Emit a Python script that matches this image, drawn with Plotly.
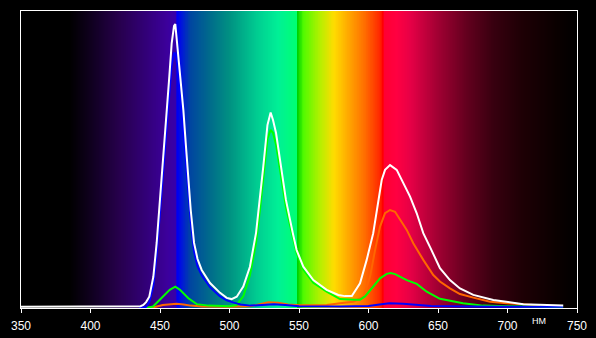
import numpy as np
import plotly.graph_objects as go

# ---- data (wavelength nm, relative intensity) ----
wl_white = [350, 430, 436, 438, 440, 442.3, 445.2, 447.6, 449.5, 451.2, 453.1, 454.8, 456.7, 458.4, 460.1, 461,
            462.4, 464.6, 466.8, 468.5, 470.4, 472.1, 474.5, 477, 480, 486, 493.2, 498, 501.5, 505.2, 509.9,
            514.7, 519.1, 521.9, 524.3, 525.5, 527.3, 529.6, 531.3, 533.5, 537, 540.6, 545.5, 548.3, 553.1,
            560.3, 569.9, 578.3, 583, 588, 593.9, 598.7, 603.4, 607, 609.5, 611.9, 615.5, 620.3, 625, 629.9,
            634.7, 639.4, 644.2, 651.4, 658.6, 665.8, 675.4, 689.8, 711.4, 725.8, 740.1]
val_white = [0.004, 0.004, 0.006, 0.010, 0.020, 0.038, 0.105, 0.219, 0.330, 0.442, 0.556, 0.667, 0.779, 0.891, 0.950, 0.956,
             0.891, 0.779, 0.667, 0.556, 0.442, 0.330, 0.219, 0.165, 0.128, 0.084, 0.051, 0.034, 0.030, 0.038, 0.072,
             0.139, 0.253, 0.364, 0.476, 0.532, 0.616, 0.658, 0.633, 0.589, 0.476, 0.364, 0.253, 0.195, 0.139,
             0.094, 0.061, 0.044, 0.040, 0.040, 0.083, 0.162, 0.252, 0.364, 0.431, 0.465, 0.481, 0.465, 0.420, 0.375,
             0.319, 0.252, 0.206, 0.134, 0.094, 0.066, 0.044, 0.027, 0.013, 0.010, 0.008]

wl_blue = [435, 440, 442.3, 445.2, 447.6, 449.5, 451.2, 453.1, 454.8, 456.7, 458.4, 460.3, 461.5, 462.4, 464.6,
           466.8, 468.5, 470.4, 472.1, 474.5, 477, 480, 486, 493, 498, 503, 508, 515, 525, 532, 540, 550, 580,
           600, 608, 615, 625, 635, 645, 670, 700, 740]
val_blue = [0.0, 0.004, 0.02, 0.075, 0.18, 0.29, 0.40, 0.51, 0.61, 0.72, 0.82, 0.86, 0.85, 0.82, 0.71,
            0.60, 0.50, 0.39, 0.29, 0.19, 0.14, 0.11, 0.07, 0.04, 0.026, 0.018, 0.012, 0.008, 0.011, 0.013, 0.010, 0.006, 0.005,
            0.007, 0.012, 0.016, 0.014, 0.010, 0.007, 0.005, 0.004, 0.004]

wl_green = [440, 445, 452, 457, 461, 464.4, 470.4, 476.4, 485, 500, 505, 510, 514.7, 519.1, 521.9, 524.3, 525.5,
            527.3, 529.6, 531.3, 533.5, 537, 540.6, 545.5, 548.3, 553.1, 560.3, 569.9, 579.5, 590, 593.9, 597.5,
            603.4, 608.3, 613.1, 616, 619.1, 622.7, 627.5, 634.7, 641.9, 651.4, 661, 668, 675.4, 682.4, 699.4,
            725.8, 740]
val_green = [0.0, 0.005, 0.038, 0.061, 0.072, 0.061, 0.033, 0.013, 0.008, 0.006, 0.010, 0.040, 0.11, 0.22, 0.33, 0.44, 0.50,
             0.57, 0.60, 0.59, 0.55, 0.45, 0.34, 0.24, 0.185, 0.13, 0.085, 0.055, 0.030, 0.028, 0.028, 0.039,
             0.072, 0.100, 0.115, 0.118, 0.114, 0.105, 0.094, 0.081, 0.055, 0.031, 0.021, 0.016, 0.012, 0.008, 0.006,
             0.004, 0.003]

wl_red = [440, 447, 452, 458, 462, 467, 472, 480, 500, 515, 522, 528, 535, 542, 550, 570, 579.5, 589.1, 596.3,
          601.1, 604.7, 608.3, 611.9, 615.5, 619.1, 622.7, 627.5, 632.2, 639.4, 646.6, 651.4, 658.6, 665.8,
          675.4, 687.4, 699.4, 711.4, 723.4]
val_red = [0.0, 0.004, 0.010, 0.013, 0.014, 0.012, 0.008, 0.005, 0.004, 0.006, 0.014, 0.019, 0.018, 0.012, 0.009, 0.010,
           0.016, 0.021, 0.038, 0.105, 0.195, 0.274, 0.319, 0.330, 0.324, 0.296, 0.263, 0.218, 0.162, 0.111,
           0.089, 0.066, 0.047, 0.035, 0.021, 0.016, 0.011, 0.008]

tick_vals = [350, 400, 450, 500, 550, 600, 650, 700, 750]
tick_text = ["350", "400", "450", "500", "550", "600", "650", "700", "750"]
unit_label = "НМ"

# ---- spectrum background colour stops (nm, rgb) ----
spec_stops = [
    (350, (0, 0, 0)), (385, (0, 0, 0)), (400, (15, 0, 30)), (420, (38, 0, 75)), (440, (50, 0, 120)),
    (455, (60, 0, 155)), (461, (55, 0, 170)), (462.5, (0, 0, 240)), (466, (0, 25, 215)), (472, (0, 70, 160)),
    (485, (0, 105, 140)), (500, (0, 145, 130)), (520, (0, 205, 145)), (535, (0, 240, 150)), (548, (0, 255, 115)),
    (549, (0, 210, 0)), (553, (80, 250, 0)), (565, (180, 240, 0)), (575, (255, 220, 0)), (585, (255, 170, 0)),
    (597, (255, 110, 0)), (608, (255, 40, 0)), (610, (255, 0, 0)), (611.5, (255, 0, 50)), (620, (255, 0, 65)),
    (630, (230, 0, 70)), (650, (160, 0, 50)), (670, (100, 0, 30)), (690, (55, 0, 15)), (710, (30, 0, 5)),
    (735, (10, 0, 0)), (750, (0, 0, 0)),
]
colorscale = [[(w - 350) / 400.0, "rgb(%d,%d,%d)" % c] for w, c in spec_stops]

bg_x = np.arange(350, 750.01, 0.5)
bg_z = [list(bg_x), list(bg_x)]

fig = go.Figure()
fig.add_trace(go.Heatmap(x=bg_x, y=[0, 1], z=bg_z, colorscale=colorscale, zmin=350, zmax=750,
                         showscale=False, hoverinfo="skip", zsmooth=False))

for wl, val, col in [(wl_red, val_red, "#ff6600"), (wl_green, val_green, "#00ff00"),
                     (wl_blue, val_blue, "#0000ff"), (wl_white, val_white, "#ffffff")]:
    fig.add_trace(go.Scatter(x=wl, y=val, mode="lines", line=dict(color=col, width=2),
                             hoverinfo="skip", showlegend=False))

fig.add_annotation(x=0.9317, y=-0.044, xref="paper", yref="paper", text=unit_label, showarrow=False,
                   font=dict(family="Liberation Sans, Arial", size=9, color="white"),
                   xanchor="center", yanchor="middle")

fig.update_layout(
    width=596, height=338,
    margin=dict(l=21, r=19, t=11, b=30, autoexpand=False),
    paper_bgcolor="black", plot_bgcolor="black",
    showlegend=False,
    font=dict(family="Liberation Sans, Arial", size=12, color="white"),
    xaxis=dict(range=[350, 750], tickvals=tick_vals, ticktext=tick_text, ticks="outside", ticklen=4,
               tickcolor="white", tickwidth=1, showline=True, linecolor="white", linewidth=1, mirror=True,
               showgrid=False, zeroline=False, ticklabelstandoff=3, automargin=False),
    yaxis=dict(range=[0, 1], showticklabels=False, ticks="", showline=True, linecolor="white",
               linewidth=1, mirror=True, showgrid=False, zeroline=False, automargin=False),
)

fig.write_html("out.html")
